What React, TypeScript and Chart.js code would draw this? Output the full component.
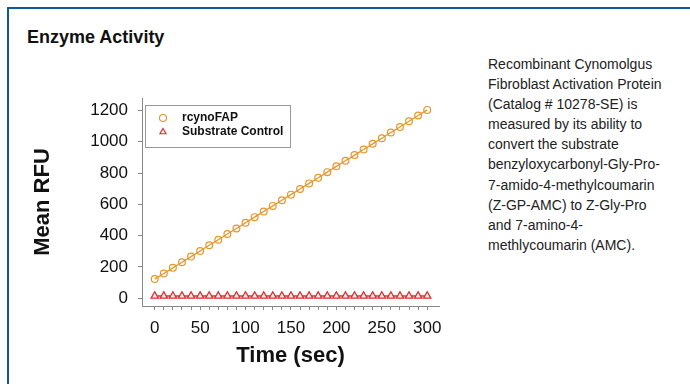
import React, { useEffect, useRef } from 'react';
import { Chart, registerables } from 'chart.js';

Chart.register(...registerables);

// ---- data ----
const timeSec = [0, 10, 20, 30, 40, 50, 60, 70, 80, 90, 100, 110, 120, 130, 140, 150, 160, 170, 180, 190, 200, 210, 220, 230, 240, 250, 260, 270, 280, 290, 300];
const rcynoFAP = [122, 158, 194, 230, 266, 302, 338, 374, 410, 446, 482, 518, 554, 590, 626, 662, 698, 734, 770, 806, 843, 879, 915, 951, 987, 1023, 1059, 1095, 1131, 1168, 1204];
const substrateControl = [14, 14, 14, 14, 14, 14, 14, 14, 14, 14, 14, 14, 14, 14, 14, 14, 14, 14, 14, 14, 14, 14, 14, 14, 14, 14, 14, 14, 14, 14, 14];
const seriesNames = ['rcynoFAP', 'Substrate Control'];
const yTickValues = [0, 200, 400, 600, 800, 1000, 1200];
const xTickValues = [0, 10, 20, 30, 40, 50, 60, 70, 80, 90, 100, 110, 120, 130, 140, 150, 160, 170, 180, 190, 200, 210, 220, 230, 240, 250, 260, 270, 280, 290, 300];
const xLabelValues = [0, 50, 100, 150, 200, 250, 300];

const FONT = "'Liberation Sans', Arial, sans-serif";
const ORANGE = '#e8962a';
const RED = '#dd2e2e';

const legendBox = {
  id: 'legendBox',
  afterDraw(chart: any) {
    const { ctx, chartArea } = chart;
    const x = chartArea.left + 3;
    const y = chartArea.top + 7;
    const w = 145;
    const h = 42;
    ctx.save();
    ctx.strokeStyle = '#999';
    ctx.lineWidth = 1;
    ctx.strokeRect(Math.round(x) + 0.5, Math.round(y) + 0.5, w, h);
    chart.data.datasets.forEach((ds: any, i: number) => {
      const cy = y + 13 + i * 14;
      const cx = x + 18;
      ctx.beginPath();
      ctx.lineWidth = 1.2;
      ctx.strokeStyle = ds.pointBorderColor;
      ctx.fillStyle = '#fff';
      const r = 3.5;
      if (ds.pointStyle === 'triangle') {
        let rad = 0;
        ctx.moveTo(cx + Math.sin(rad) * r, cy - Math.cos(rad) * r);
        rad += (2 * Math.PI) / 3;
        ctx.lineTo(cx + Math.sin(rad) * r, cy - Math.cos(rad) * r);
        rad += (2 * Math.PI) / 3;
        ctx.lineTo(cx + Math.sin(rad) * r, cy - Math.cos(rad) * r);
        ctx.closePath();
      } else {
        ctx.arc(cx, cy, r, 0, Math.PI * 2);
      }
      ctx.fill();
      ctx.stroke();
      ctx.fillStyle = '#111';
      ctx.font = `bold 12px ${FONT}`;
      ctx.textBaseline = 'middle';
      ctx.textAlign = 'left';
      ctx.fillText(ds.label, x + 37, cy);
    });
    ctx.restore();
  },
};

export default function App() {
  const canvasRef = useRef<HTMLCanvasElement | null>(null);

  useEffect(() => {
    document.body.style.margin = '0';
    const canvas = canvasRef.current;
    if (!canvas) return;
    const chart = new Chart(canvas, {
      type: 'line',
      data: {
        datasets: [
          {
            label: seriesNames[0],
            data: timeSec.map((t, i) => ({ x: t, y: rcynoFAP[i] })),
            borderColor: ORANGE,
            borderWidth: 1.3,
            showLine: true,
            pointStyle: 'circle',
            pointRadius: 3.4,
            pointBorderWidth: 1.2,
            pointBorderColor: ORANGE,
            pointBackgroundColor: 'rgba(255,255,255,0)',
            tension: 0,
          },
          {
            label: seriesNames[1],
            data: timeSec.map((t, i) => ({ x: t, y: substrateControl[i] })),
            borderColor: RED,
            borderWidth: 1.3,
            showLine: true,
            pointStyle: 'triangle',
            pointRadius: 4.2,
            pointBorderWidth: 1.3,
            pointBorderColor: RED,
            pointBackgroundColor: 'rgba(255,235,235,1)',
            tension: 0,
          },
        ],
      },
      options: {
        responsive: false,
        animation: false,
        devicePixelRatio: 1,
        layout: { padding: { left: 0, top: 98, right: 41, bottom: 0 } },
        plugins: {
          legend: { display: false },
          tooltip: { enabled: false },
        },
        scales: {
          x: {
            type: 'linear',
            min: -14,
            max: 313,
            afterFit(scale: any) {
              scale.height = 78;
            },
            afterBuildTicks(scale: any) {
              scale.ticks = xTickValues.map((v) => ({ value: v }));
            },
            grid: {
              display: true,
              drawOnChartArea: false,
              drawTicks: true,
              tickLength: 4,
              color: '#888',
            },
            border: { display: true, color: '#888', width: 1 },
            ticks: {
              autoSkip: false,
              maxRotation: 0,
              padding: 8,
              color: '#111',
              font: { family: FONT, size: 17 },
              callback: (v: any) => (xLabelValues.includes(Number(v)) ? String(v) : ''),
            },
            title: {
              display: true,
              text: 'Time (sec)',
              color: '#111',
              font: { family: FONT, size: 22, weight: 'bold' },
              padding: { top: 0, bottom: 15 },
            },
          },
          y: {
            type: 'linear',
            min: -50,
            max: 1280,
            afterFit(scale: any) {
              scale.width = 142;
            },
            afterBuildTicks(scale: any) {
              scale.ticks = yTickValues.map((v) => ({ value: v }));
            },
            grid: {
              display: true,
              drawOnChartArea: false,
              drawTicks: true,
              tickLength: 4,
              color: '#888',
            },
            border: { display: true, color: '#888', width: 1 },
            ticks: {
              autoSkip: false,
              padding: 10,
              color: '#111',
              font: { family: FONT, size: 17 },
              callback: (v: any) => String(v),
            },
            title: {
              display: true,
              text: 'Mean RFU',
              color: '#111',
              font: { family: FONT, size: 22, weight: 'bold' },
              padding: { top: 30, bottom: 0 },
            },
          },
        },
      },
      plugins: [legendBox],
    } as any);
    return () => chart.destroy();
  }, []);

  return (
    <div style={{ position: 'relative', width: 690, height: 384, overflow: 'hidden', background: '#fff', fontFamily: FONT }}>
      <div
        style={{
          position: 'absolute',
          left: 7,
          top: 7,
          width: 720,
          height: 420,
          border: '2px solid #0d5a9a',
          boxSizing: 'border-box',
        }}
      />
      <div
        style={{
          position: 'absolute',
          left: 27,
          top: 26,
          fontSize: 18,
          fontWeight: 'bold',
          color: '#111',
          lineHeight: '22px',
          whiteSpace: 'nowrap',
        }}
      >
        Enzyme Activity
      </div>
      <canvas ref={canvasRef} width={480} height={384} style={{ position: 'absolute', left: 0, top: 0, width: 480, height: 384 }} />
      <div
        style={{
          position: 'absolute',
          left: 488,
          top: 54,
          fontSize: 14,
          lineHeight: '20.1px',
          color: '#222',
          whiteSpace: 'nowrap',
        }}
      >
        Recombinant Cynomolgus<br />
        Fibroblast Activation Protein<br />
        (Catalog # 10278-SE) is<br />
        measured by its ability to<br />
        convert the substrate<br />
        benzyloxycarbonyl-Gly-Pro-<br />
        7-amido-4-methylcoumarin<br />
        (Z-GP-AMC) to Z-Gly-Pro<br />
        and 7-amino-4-<br />
        methlycoumarin (AMC).
      </div>
    </div>
  );
}
